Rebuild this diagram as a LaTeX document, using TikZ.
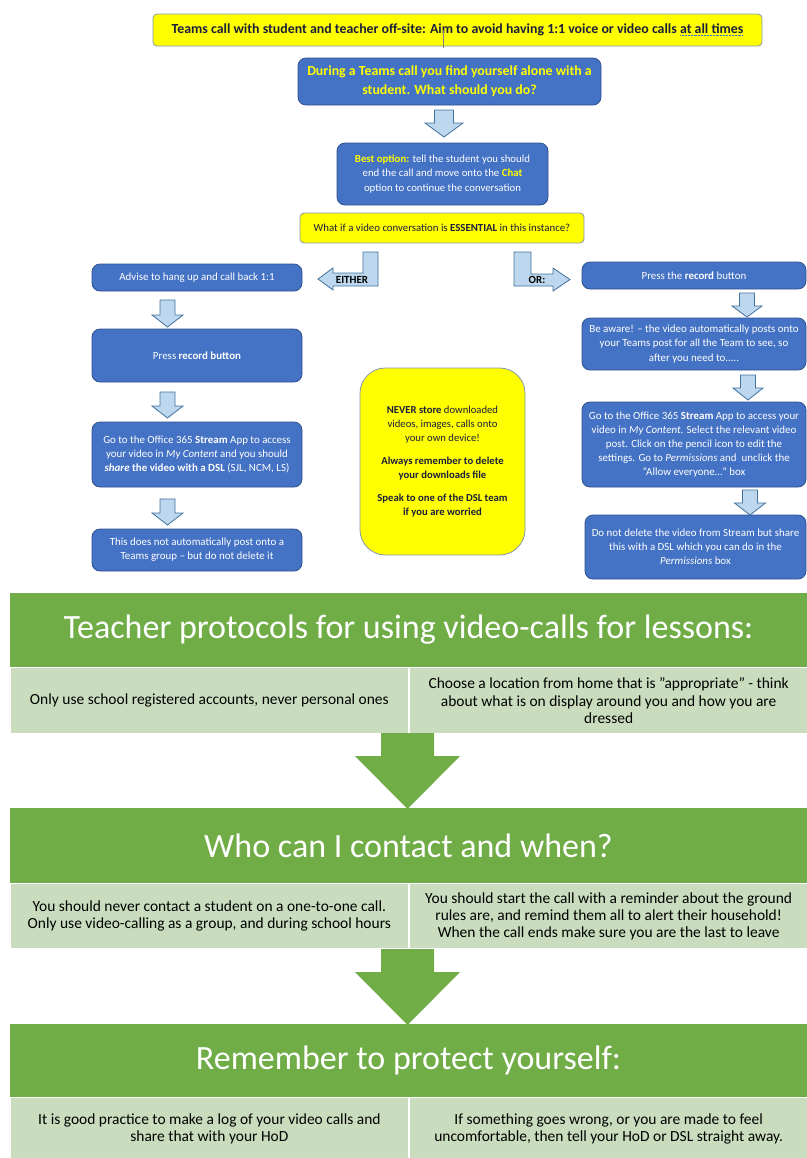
\documentclass[tikz,border=0pt]{standalone}
\usepackage{fontspec}
\setmainfont{Carlito}
\usetikzlibrary{positioning,calc}

\definecolor{offblue}{HTML}{4472C4}
\definecolor{offblueline}{HTML}{2F528F}
\definecolor{arrowfill}{HTML}{BDD7EE}
\definecolor{arrowline}{HTML}{41719C}
\definecolor{hiyellow}{HTML}{FFFF00}
\definecolor{boxline}{HTML}{8497B0}
\definecolor{leafgreen}{HTML}{70AD47}
\definecolor{palegreen}{HTML}{C9DDBE}
\definecolor{inktext}{HTML}{1B1F3B}
\definecolor{spellblue}{HTML}{3F6FD0}

\newcommand{\pxu}{0.75pt}
% dotted and plain blue underlines
\newlength{\ulwd}
\newcommand{\dotul}[1]{\settowidth{\ulwd}{#1}\rlap{#1}\textcolor{spellblue}{\raisebox{-2pt}{\leaders\hbox to 1.1pt{\hss\rule{0.55pt}{0.55pt}\hss}\hskip\ulwd}}}
\newcommand{\blueul}[1]{\settowidth{\ulwd}{#1}\rlap{#1}\textcolor{spellblue}{\rule[-1.6pt]{\ulwd}{0.4pt}}}
% down block arrow: tip, length, head half, shaft half, head length
\newcommand{\dnarrow}[5]{\draw[blockarrow] (#1) -- ++(#3,-#5) -- ++(#4-#3,0) -- ++(0,#5-#2) -- ++(-2*#4,0) -- ++(0,#2-#5) -- ++(#4-#3,0) -- cycle;}
\newcommand{\greenarrow}[1]{\fill[leafgreen] (#1) -- ++(52.5,-53) -- ++(-26,0) -- ++(0,-23) -- ++(-53,0) -- ++(0,23) -- ++(-26,0) -- cycle;}

\tikzset{
  sized/.style 2 args={minimum width=#1*\pxu, minimum height=#2*\pxu},
  bluebox/.style={draw=offblueline, fill=offblue, rounded corners=6pt, text=white, align=center, inner sep=0pt, line width=0.6pt, font=\fontsize{8.2}{10.6}\selectfont},
  yellowbox/.style={draw=boxline, fill=hiyellow, rounded corners=3pt, text=inktext, align=center, inner sep=0pt, line width=0.6pt},
  blockarrow/.style={draw=arrowline, fill=arrowfill, line width=0.6pt},
  greenhead/.style={fill=leafgreen, text=white, inner sep=0pt, font=\fontsize{25.5}{30}\selectfont},
  greencell/.style={fill=palegreen, draw=white, line width=0.6pt, inner sep=0pt, align=center, font=\fontsize{11.6}{12.9}\selectfont},
  armlabel/.style={font=\bfseries\fontsize{8.2}{9}\selectfont, inner sep=0pt},
}

\begin{document}
\begin{tikzpicture}[x=0.75pt, y=-0.75pt]
\useasboundingbox (0,0) rectangle (807,1158);

% top of the flow
\node[yellowbox, sized={609}{32}, font=\bfseries\fontsize{10.4}{12}\selectfont] (title) at (457.5,30) {Teams call with student and teacher off-site: Aim to avoid having 1:1 voice or video calls \dotul{at all times}};
\coordinate (stub) at (443,48);
\draw[gray, line width=0.6pt] (stub |- title.center) -- (stub);

\node[bluebox, sized={303}{47}, text=hiyellow, font=\bfseries\fontsize{10.4}{14}\selectfont] (alone) at (449.5,81.5) {During a Teams call you find yourself alone with a\\student. What should you do?};
\coordinate (a1) at (444,137);
\dnarrow{a1}{27}{19}{9.5}{14}
\node[bluebox, sized={211}{62}, font=\fontsize{8.1}{10.9}\selectfont] (best) at (442.5,174) {\textcolor{hiyellow}{\bfseries Best option:} tell the student you should\\end the call and move onto the \textcolor{hiyellow}{\bfseries Chat}\\option to continue the conversation};
\node[yellowbox, sized={284}{30}, font=\fontsize{8.1}{9}\selectfont] (whatif) at (442,228) {What if a video conversation is \textbf{ESSENTIAL} in this instance?};

% either / or
\draw[blockarrow] (378,252) -- (378,286) -- (333,286) -- (333,290) -- (318,279) -- (333,268) -- (333,273) -- (363,273) -- (363,252) -- cycle;
\node[armlabel] (either) at (352,280) {EITHER};
\draw[blockarrow] (514,252) -- (531,252) -- (531,274) -- (553,274) -- (553,268) -- (570,279.5) -- (553,291) -- (553,286) -- (514,286) -- cycle;
\node[armlabel] (orlabel) at (537,280) {OR:};

% left column
\node[bluebox, sized={210}{27}] (l1) at (197,277.5) {Advise to hang up and call back 1:1};
\coordinate (la1) at (167.5,327);
\dnarrow{la1}{27}{15.5}{7.5}{12}
\node[bluebox, sized={210}{53}] (l2) at (197,355.5) {Press \textbf{record button}};
\coordinate (la2) at (167.5,418);
\dnarrow{la2}{26}{15.5}{7.5}{12}
\node[bluebox, sized={210}{65}] (l3) at (197,454.5) {Go to the Office 365 \textbf{Stream} App to access\\your video in \textit{My Content} and you should\\\textbf{\textit{share} the video with a DSL} (SJL, NCM, LS)};
\coordinate (la3) at (167.5,525);
\dnarrow{la3}{26}{15.5}{7.5}{12}
\node[bluebox, sized={210}{42}] (l4) at (197,550) {This does not automatically post onto a\\Teams group -- but do not delete it};

% reminder in the middle
\node[yellowbox, sized={165}{187}, rounded corners=19pt, font=\fontsize{8}{10.5}\selectfont] (never) at (442.5,461.5) {\textbf{NEVER store} downloaded\\videos, images, calls onto\\your own device!\\[6.5pt]\textbf{Always remember to delete}\\\textbf{your downloads file}\\[6.5pt]\textbf{Speak to one of the DSL team}\\\textbf{if you are worried}};

% right column
\node[bluebox, sized={224}{27}] (r1) at (694,275.5) {Press the \textbf{record} button};
\coordinate (ra1) at (747,317);
\dnarrow{ra1}{24}{15}{7.5}{11}
\node[bluebox, sized={224}{52}] (r2) at (694,344) {Be aware! -- the video automatically posts onto\\your Teams post for all the Team to see, so\\after you need to.....};
\coordinate (ra2) at (748,400);
\dnarrow{ra2}{25}{15}{7.5}{12}
\node[bluebox, sized={224}{85}] (r3) at (694,444.5) {Go to the Office 365 \textbf{Stream} App to access your\\video in \textit{My Content}. Select the relevant video\\post. Click on the pencil icon to edit the\\settings. Go to \textit{Permissions} \blueul{and\ \ unclick} the\\``Allow everyone\ldots'' box};
\coordinate (ra3) at (750,515);
\dnarrow{ra3}{25}{15.5}{7.5}{12}
\node[bluebox, sized={221}{64}] (r4) at (695.5,547) {Do not delete the video from Stream but share\\this with a DSL which you can do in the\\\textit{Permissions} box};

% teacher protocols
\node[greenhead, sized={797}{74}] (protocols) at (408.5,630) {Teacher protocols for using video-calls for lessons:};
\node[greencell, sized={398.5}{66}, anchor=north west] (p1) at (protocols.south west) {Only use school registered accounts, never personal ones};
\node[greencell, sized={398.5}{66}, anchor=north west] (p2) at (p1.north east) {Choose a location from home that is "appropriate" - think\\about what is on display around you and how you are\\dressed};
\coordinate (g1) at (407.5,809);
\greenarrow{g1}

% contact
\node[greenhead, sized={797}{75}] (contact) at (408.5,845.5) {Who can I contact and when?};
\node[greencell, sized={398.5}{65}, anchor=north west] (c1) at (contact.south west) {You should never contact a student on a one-to-one call.\\Only use video-calling as a group, and during school hours};
\node[greencell, sized={398.5}{65}, anchor=north west] (c2) at (c1.north east) {You should start the call with a reminder about the ground\\rules are, and remind them all to alert their household!\\When the call ends make sure you are the last to leave};
\coordinate (g2) at (407.5,1025);
\greenarrow{g2}

% protect yourself
\node[greenhead, sized={797}{73}] (protect) at (408.5,1060.5) {Remember to protect yourself:};
\node[greencell, sized={398.5}{62}, anchor=north west] (m1) at (protect.south west) {It is good practice to make a log of your video calls and\\share that with your HoD};
\node[greencell, sized={398.5}{62}, anchor=north west] (m2) at (m1.north east) {If something goes wrong, or you are made to feel\\uncomfortable, then tell your HoD or DSL straight away.};
\end{tikzpicture}
\end{document}
